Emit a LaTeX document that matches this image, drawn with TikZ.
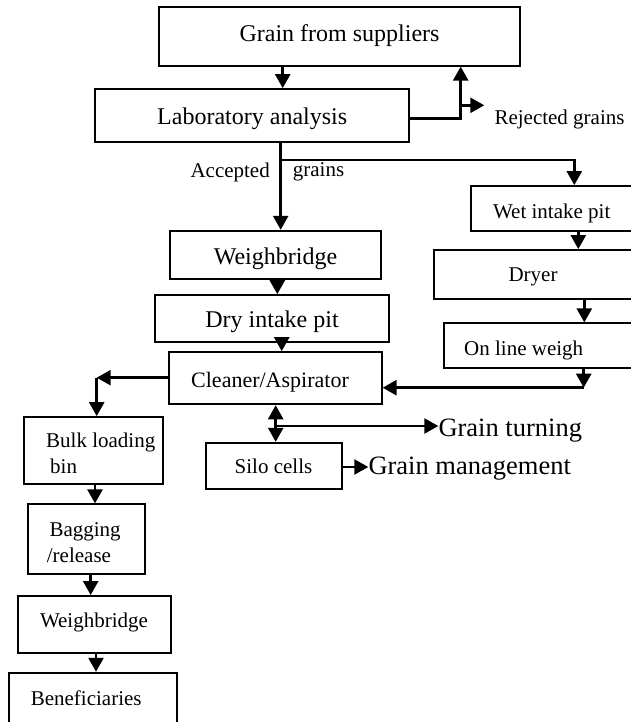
\documentclass[tikz,border=0pt]{standalone}
\usepackage{fontspec}
\setmainfont{Liberation Serif}
\usetikzlibrary{arrows.meta}
\newcommand{\fszA}{\fontsize{24}{28}\selectfont}
\newcommand{\fszB}{\fontsize{21}{26}\selectfont}
\newcommand{\fszCl}{\fontsize{22}{26}\selectfont}
\newcommand{\fszC}{\fontsize{26.5}{30}\selectfont}
\begin{document}
\begin{tikzpicture}[x=1pt,y=-1pt,
  box/.style={draw,line width=1.8pt,inner sep=0pt},
  txt/.style={inner sep=0pt},
  conn/.style={line width=2.5pt},
  arr/.style={conn,-{Triangle[length=14pt,width=15pt]}},
  darr/.style={conn,{Triangle[length=14pt,width=15pt]}-{Triangle[length=14pt,width=15pt]}}]
\useasboundingbox (0,0) rectangle (631,722);
\clip (0,0) rectangle (631,722);

% boxes
\node[box,minimum width=360.7pt,minimum height=59pt] (grain) at (339.7,36.2) {};
\node[box,minimum width=314.6pt,minimum height=53.3pt] (lab) at (252,115.7) {};
\node[box,minimum width=210.4pt,minimum height=48.6pt] (wb) at (275.5,255) {};
\node[box,minimum width=234.3pt,minimum height=46.7pt] (dry) at (271.9,318.4) {};
\node[box,minimum width=212.4pt,minimum height=52.3pt] (cleaner) at (275.5,378.2) {};
\node[box,minimum width=162.3pt,minimum height=45pt] (wet) at (551.9,208.5) {};
\node[box,minimum width=198.6pt,minimum height=49pt] (dryer) at (533,274.5) {};
\node[box,minimum width=200pt,minimum height=44.4pt] (olw) at (544,345.5) {};
\node[box,minimum width=136pt,minimum height=46.6pt] (silo) at (273.7,466) {};
\node[box,minimum width=139pt,minimum height=67.3pt] (bulk) at (93.8,450.7) {};
\node[box,minimum width=117.6pt,minimum height=70pt] (bag) at (86.5,539.3) {};
\node[box,minimum width=153pt,minimum height=56.7pt] (wb2) at (94.2,624.3) {};
\node[box,minimum width=167.4pt,minimum height=60pt] (ben) at (93,702.7) {};

% box texts
\node[txt,font=\fszA] (graintxt) at (339.5,36) {Grain from suppliers};
\node[txt,font=\fszA] (labtxt) at (252.2,118.5) {Laboratory analysis};
\node[txt,font=\fszA] (wbtxt) at (275.5,258.5) {Weighbridge};
\node[txt,font=\fszA] (drytxt) at (272,321.5) {Dry intake pit};
\node[txt,font=\fszCl] (cleanertxt) at (270,382.5) {Cleaner/Aspirator};
\node[txt,font=\fszB] (wettxt) at (551.7,213) {Wet intake pit};
\node[txt,font=\fszB] (dryertxt) at (533,276.5) {Dryer};
\node[txt,font=\fszB] (olwtxt) at (523.7,350) {On line weigh};
\node[txt,font=\fszB] (silotxt) at (273.5,466.5) {Silo cells};
\node[txt,font=\fszB,align=left,anchor=west] (bulktxt) at (46,453.5) {Bulk loading\\\hspace*{4pt}bin};
\node[txt,font=\fszB,align=left,anchor=west] (bagtxt) at (46.7,542.7) {\hspace*{2.6pt}Bagging\\/release};
\node[txt,font=\fszB] (wb2txt) at (94,622) {Weighbridge};
\node[txt,font=\fszB] (bentxt) at (86.2,698) {Beneficiaries};

% free labels
\node[txt,font=\fszB,anchor=west,inner xsep=10pt] (rej) at (484.3,119) {Rejected grains};
\node[txt,font=\fszB,anchor=east] (acctxt) at (270,172) {Accepted};
\node[txt,font=\fszB,anchor=west] (grtxt) at (292.7,172) {grains};
\node[txt,font=\fszC,anchor=west] (turn) at (438.3,431) {Grain turning};
\node[txt,font=\fszC,anchor=west] (mgmt) at (368.3,468.5) {Grain management};

% connectors
\draw[arr] (282.7,0 |- grain.south) -- (282.7,0 |- lab.north);
\coordinate (rj) at (460.7,118.3);
\draw[arr] (lab.east |- rj) -| (rj |- grain.south);
\coordinate (rs) at (460.7,105.3);
\draw[arr] (rs) -- (rs -| rej.west);
\draw[arr] (280.7,0 |- lab.south) -- (280.7,0 |- wb.north);
\coordinate (acc) at (280.7,160);
\draw[arr] (acc) -| (574.3,0 |- wet.north);
\draw[arr] (578.3,0 |- wet.south) -- (578.3,0 |- dryer.north);
\draw[arr] (584.3,0 |- dryer.south) -- (584.3,0 |- olw.north);
\coordinate (ol) at (583.7,387.7);
\draw[arr] (ol |- olw.south) -- (ol);
\draw[arr] (ol) -- (ol -| cleaner.east);
\draw[arr] (277.3,0 |- wb.south) -- (277.3,0 |- dry.north);
\draw[arr] (281.7,0 |- dry.south) -- (281.7,0 |- cleaner.north);
\coordinate (cl) at (96.7,377.7);
\draw[arr] (cl -| cleaner.west) -- (cl);
\draw[arr] (cl) -- (cl |- bulk.north);
\draw[arr] (95,0 |- bulk.south) -- (95,0 |- bag.north);
\draw[arr] (90.7,0 |- bag.south) -- (90.7,0 |- wb2.north);
\draw[arr] (96,0 |- wb2.south) -- (96,0 |- ben.north);
\draw[darr] (275.7,0 |- cleaner.south) -- (275.7,0 |- silo.north);
\coordinate (gt) at (275.7,426);
\draw[arr] (gt) -- (gt -| turn.west);
\draw[arr] (silo.east |- 0,467) -- (mgmt.west |- 0,467);
\end{tikzpicture}
\end{document}
